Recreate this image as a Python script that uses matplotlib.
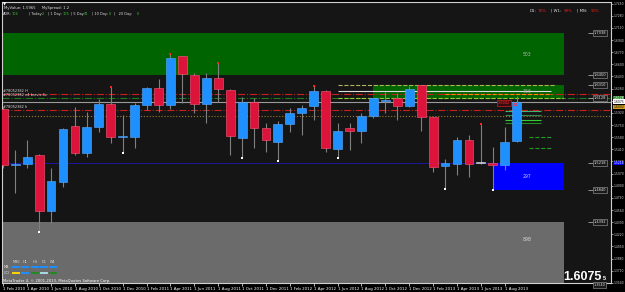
import numpy as np
import pandas as pd
import matplotlib
matplotlib.use('Agg')
import matplotlib.pyplot as plt

W, H = 625, 292

# monthly candles, GBPUSD-like
months = pd.date_range('2010-02-01', periods=44, freq='MS')
opens = [1.5974, 1.5190, 1.5204, 1.5330, 1.4546, 1.4952, 1.5736, 1.5358, 1.5722, 1.6044,
         1.5582, 1.5582, 1.6030, 1.6268, 1.6030, 1.6716, 1.6450, 1.6044, 1.6408, 1.6240,
         1.5568, 1.6072, 1.5708, 1.5512, 1.5764, 1.5918, 1.6016, 1.6226, 1.5414, 1.5708,
         1.5666, 1.5876, 1.6086, 1.6128, 1.6016, 1.6310, 1.5862, 1.5176, 1.5204, 1.5540,
         1.5218, 1.5218, 1.5190, 1.5526]
highs = [1.6002, 1.5400, 1.5540, 1.5344, 1.5148, 1.5708, 1.6002, 1.5932, 1.6114, 1.6282,
         1.5890, 1.6058, 1.6282, 1.6394, 1.6744, 1.6720, 1.6478, 1.6478, 1.6618, 1.6254,
         1.6142, 1.6128, 1.5778, 1.5806, 1.5988, 1.6030, 1.6296, 1.6240, 1.5778, 1.5778,
         1.5918, 1.6128, 1.6212, 1.6198, 1.6296, 1.6310, 1.5862, 1.5274, 1.5582, 1.5610,
         1.5764, 1.5442, 1.5722, 1.6156]
lows = [1.5148, 1.4798, 1.5148, 1.4252, 1.4378, 1.4882, 1.5330, 1.5302, 1.5652, 1.5498,
        1.5358, 1.5428, 1.5960, 1.5932, 1.5974, 1.6058, 1.5918, 1.5778, 1.6072, 1.5330,
        1.5288, 1.5428, 1.5372, 1.5246, 1.5652, 1.5610, 1.5820, 1.5372, 1.5288, 1.5400,
        1.5498, 1.5848, 1.5918, 1.5820, 1.6002, 1.5666, 1.5092, 1.4854, 1.5050, 1.5022,
        1.5204, 1.4840, 1.5120, 1.5512]
closes = [1.5190, 1.5204, 1.5302, 1.4546, 1.4966, 1.5694, 1.5358, 1.5722, 1.6044, 1.5582,
          1.5596, 1.6030, 1.6268, 1.6030, 1.6688, 1.6464, 1.6044, 1.6408, 1.6254, 1.5596,
          1.6072, 1.5708, 1.5540, 1.5764, 1.5918, 1.5988, 1.6226, 1.5428, 1.5666, 1.5666,
          1.5876, 1.6128, 1.6100, 1.6016, 1.6254, 1.5862, 1.5162, 1.5218, 1.5540, 1.5204,
          1.5212, 1.5190, 1.5512, 1.6075]
current_price = 1.6075

# fractal markers
up_fractals = [9, 14, 18, 26, 40]
down_fractals = [3, 10, 20, 23, 28, 37, 41]

# supply / demand zones
zone_labels = ['503', '766', '297', '898']
zone_start = [-1, 31, 41, -1]
zone_end = [47, 47, 47, 47]
zone_top = [1.7038, 1.6310, 1.5218, 1.4392]
zone_bottom = [1.6450, 1.6128, 1.4840, 1.3400]
zone_colors = ['#006400', '#006400', '#0000ff', '#6b6b6b']
zone_text_colors = ['#b4b4b4', '#b4b4b4', '#c8c8ff', '#dcdcdc']

# zone boundary price tags at the right edge
tag_prices = [1.7038, 1.6450, 1.6310, 1.6128, 1.5218, 1.4840, 1.4392, 1.3540]

# full-width levels
level_prices = [1.6184, 1.6128, 1.6075, 1.5960, 1.5876]
level_colors = ['#c81e1e', '#1e7a1e', '#9a9a9a', '#c81e1e', '#a07828']
level_styles = ['-.', '-.', '-', '-.', ':']
level_names = ['#78052382 H', '#78052382 n4 brevis 4x', '', '#78052382 h', '']

# partial levels on the right
seg_prices = [1.6310, 1.6226, 1.6184, 1.6128, 1.5946, 1.5890, 1.5820, 1.5778, 1.5582, 1.5428]
seg_start = [28, 28, 37, 28, 42, 42, 42, 42, 44, 44]
seg_end = [46.3, 45.9, 46, 47, 45, 45, 45, 45, 46, 46]
seg_colors = ['#b4b45a', '#dcdcdc', '#ff8c00', '#9acd32', '#3cb371', '#2e8b57',
              '#32cd32', '#228b22', '#1ea01e', '#1ea01e']
seg_styles = ['--', '-', '--', '--', '-', '-', '-', '-', '--', '--']

# price axis
price_ticks = np.arange(1.3540, 1.7480, 0.0170)

fig = plt.figure(figsize=(W / 100, H / 100), dpi=100, facecolor='#000000')
ax = fig.add_axes([2 / W, 1 - 283 / H, 609 / W, 281 / H])
ax.set_facecolor('#151515')
ax.set_xlim(-0.11, 50.9)
ax.set_ylim(1.3538, 1.7472)

def fx(px):
    return px / W

def fy(py):
    return 1 - py / H

# zones
for lab, x0, x1, top, bot, col, tcol in zip(zone_labels, zone_start, zone_end, zone_top,
                                            zone_bottom, zone_colors, zone_text_colors):
    ax.fill_between([x0, x1], bot, top, color=col, lw=0, zorder=1)
    ax.text(43.9, (top + max(bot, 1.3900)) / 2, lab, color=tcol, fontsize=3.3,
            ha='center', va='center', zorder=6)

# levels
for p, c, s, name in zip(level_prices, level_colors, level_styles, level_names):
    ax.axhline(p, color=c, ls=s, lw=0.8, zorder=2)
    if name:
        ax.text(0.0, p + 0.0012, name, color='#e0e0e0', fontsize=2.5, va='bottom', zorder=6)
ax.hlines(1.5218, -1, 41, color='#1a1a9a', lw=0.7, zorder=2)

for p, x0, x1, c, s in zip(seg_prices, seg_start, seg_end, seg_colors, seg_styles):
    ax.hlines(p, x0, x1, color=c, ls=s, lw=0.8, zorder=2)

# candles
for i in range(len(opens)):
    o, h, l, c = opens[i], highs[i], lows[i], closes[i]
    if abs(c - o) < 0.0008:
        fc, ec = '#c8c8c8', '#e0e0e0'
    elif c >= o:
        fc, ec = '#1e90ff', '#5aaaff'
    else:
        fc, ec = '#dc143c', '#ff5a78'
    ax.vlines(i, l, h, color='#808080', lw=0.8, zorder=3)
    body = max(abs(c - o), 0.0018)
    ax.bar(i, body, bottom=min(o, c), width=0.74, color=fc, edgecolor=ec, lw=0.4, zorder=4)

ax.scatter(up_fractals, [highs[i] for i in up_fractals], s=2, marker='s', color='#ff2020', zorder=5, lw=0)
ax.scatter(down_fractals, [lows[i] for i in down_fractals], s=2, marker='s', color='#ffffff', zorder=5, lw=0)

# red price label near the last candle
ax.text(41.95, 1.6058, '1.6042', color='#ff3030', fontsize=2.5, ha='center', va='center',
        bbox=dict(boxstyle='square,pad=0.3', fc='#3a0a10', ec='#c81e1e', lw=0.5), zorder=6)
ax.plot([42.9], [1.6044], marker='x', ms=2, color='#ff3030', mew=0.6, zorder=6)

# zone tags on the right
for p in tag_prices[:-1]:
    ax.hlines(p, 49.0, 49.4, color='#c0c0c0', lw=0.5, zorder=6)
    ax.text(50.0, p, f'{p:.4f}', color='#e0e0e0', fontsize=2.6, ha='center', va='center',
            bbox=dict(boxstyle='square,pad=0.25', fc='#1a1a1a', ec='#a0a0a0', lw=0.4), zorder=6)
ax.text(49.9, tag_prices[-1], f'{tag_prices[-1]:.4f}', color='#e0e0e0', fontsize=2.4,
        ha='center', va='top', zorder=6, clip_on=False,
        bbox=dict(boxstyle='square,pad=0.2', fc='#1a1a1a', ec='#a0a0a0', lw=0.4))

# axes styling
for s in ax.spines.values():
    s.set_color('#d0d0d0')
    s.set_linewidth(0.8)
ax.yaxis.tick_right()
ax.set_yticks(price_ticks)
ax.set_yticklabels([f'{p:.4f}' for p in price_ticks])
ax.tick_params(axis='y', colors='#d0d0d0', labelsize=2.2, length=1.5, width=0.5, pad=0.5)

tick_idx = list(range(0, 44, 2))
ax.set_xticks(tick_idx)
ax.set_xticklabels([f'1 {months[i].strftime("%b %Y")}' for i in tick_idx], ha='left')
ax.tick_params(axis='x', colors='#ffffff', labelsize=2.9, length=2, width=0.5, pad=1)

# right axis highlights
for p, fc, tc in [(1.6128, '#1e8c1e', '#ffffff'), (current_price, '#ffffff', '#000000'),
                  (1.6002, '#d2a020', '#000000'), (1.5218, '#0000ff', '#ffffff')]:
    ax.text(1.004, p, f'{p:.4f}', transform=ax.get_yaxis_transform(), color=tc, fontsize=2.2,
            ha='left', va='center', bbox=dict(boxstyle='square,pad=0.12', fc=fc, ec='none'),
            clip_on=False, zorder=7)

# header info
fig.text(fx(3), fy(4), '\u25bc', color='#ffffff', fontsize=3, va='center')
fig.text(fx(4), fy(8), 'MyValue: 1.5965     MySpread: 1.2', color='#e0e0e0', fontsize=2.7, va='center')
info_parts = [('ADR:', 3, '#e0e0e0'), ('106', 12, '#32cd32'), ('| Today:', 29, '#e0e0e0'),
              ('2', 42, '#32cd32'), ('| 1 Day:', 48, '#e0e0e0'), ('106', 63, '#32cd32'),
              ('| 5 Day:', 71, '#e0e0e0'), ('72', 84, '#32cd32'), ('| 10 Day:', 92, '#e0e0e0'),
              ('0', 109, '#32cd32'), ('|   20 Day:', 114, '#e0e0e0'), ('0', 137, '#32cd32')]
for t, x, c in info_parts:
    fig.text(fx(x), fy(14), t, color=c, fontsize=2.5, va='center')

rate_parts = [('D1:', 530, '#e0e0e0'), ('78%', 538, '#e02020'), ('| W1:', 551, '#e0e0e0'),
              ('98%', 564, '#e02020'), ('| MN:', 577, '#e0e0e0'), ('90%', 591, '#e02020')]
for t, x, c in rate_parts:
    fig.text(fx(x), fy(11), t, color=c, fontsize=2.8, va='center')

# indicator panel bottom-left
tf_names = ['M30', 'H1', 'H4', 'D1', 'W1']
tf_x = [16, 25, 35, 44, 53]
ma_colors = ['#1e90ff'] * 5
cci_colors = ['#ffd700', '#1e90ff', '#228b22', '#add8e6', '#228b22']
for name, x, mc, cc in zip(tf_names, tf_x, ma_colors, cci_colors):
    fig.text(fx(x), fy(262), name, color='#dcdcdc', fontsize=2.5, ha='center', va='center')
    fig.add_artist(plt.Line2D([fx(x - 3), fx(x + 3)], [fy(267), fy(267)], color=mc, lw=1.4))
    fig.add_artist(plt.Line2D([fx(x - 3), fx(x + 3)], [fy(273), fy(273)], color=cc, lw=1.4))
fig.text(fx(4), fy(267), 'MA', color='#dcdcdc', fontsize=2.5, va='center')
fig.text(fx(4), fy(273), 'CCI', color='#dcdcdc', fontsize=2.5, va='center')
fig.text(fx(3), fy(281), 'MetaTrader 4, \u00a9 2001-2013, MetaQuotes Software Corp.',
         color='#ffffff', fontsize=2.7, va='center')

# big price readout
fig.text(fx(563), fy(280), f'{current_price:.4f}', color='#ffffff', fontsize=9,
         fontfamily='Liberation Sans', fontweight='bold', va='baseline')
fig.text(fx(603), fy(280), '5', color='#ffffff', fontsize=4, fontfamily='Liberation Sans',
         fontweight='bold', va='baseline')

fig.savefig('out.png', dpi=100, facecolor=fig.get_facecolor())
